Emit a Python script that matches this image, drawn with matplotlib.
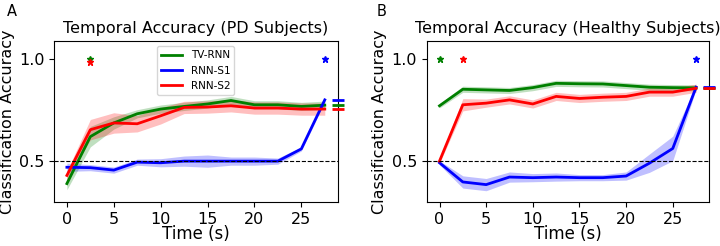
import numpy as np
import matplotlib
matplotlib.use("Agg")
import matplotlib.pyplot as plt

# time points (s)
t = [0, 2.5, 5, 7.5, 10, 12.5, 15, 17.5, 20, 22.5, 25, 27.5]
models = ["TV-RNN", "RNN-S1", "RNN-S2"]
colors = ["green", "blue", "red"]

# PD subjects: mean and half-width of shaded band
pd_tv = [0.39, 0.62, 0.687, 0.732, 0.755, 0.768, 0.78, 0.797, 0.776, 0.776, 0.768, 0.774]
pd_tv_err = [0.03, 0.05, 0.03, 0.02, 0.02, 0.02, 0.02, 0.02, 0.02, 0.02, 0.02, 0.02]
pd_s1 = [0.47, 0.468, 0.456, 0.495, 0.492, 0.5, 0.5, 0.5, 0.5, 0.5, 0.56, 0.80]
pd_s1_err = [0.02, 0.015, 0.015, 0.015, 0.02, 0.025, 0.03, 0.02, 0.02, 0.015, 0.01, 0.01]
pd_s2 = [0.43, 0.654, 0.687, 0.683, 0.722, 0.763, 0.765, 0.771, 0.76, 0.76, 0.755, 0.755]
pd_s2_err = [0.02, 0.05, 0.05, 0.04, 0.04, 0.03, 0.03, 0.03, 0.03, 0.03, 0.03, 0.03]
pd_star_x = [2.5, 27.5, 2.5]
pd_star_y = [1.0, 1.0, 0.984]

# healthy subjects
hc_tv = [0.771, 0.852, 0.849, 0.846, 0.86, 0.881, 0.879, 0.878, 0.87, 0.862, 0.86, 0.859]
hc_tv_err = [0.01, 0.015, 0.015, 0.015, 0.015, 0.015, 0.015, 0.015, 0.015, 0.015, 0.015, 0.015]
hc_s1 = [0.492, 0.398, 0.385, 0.422, 0.419, 0.422, 0.419, 0.419, 0.427, 0.49, 0.562, 0.862]
hc_s1_err = [0.01, 0.03, 0.03, 0.025, 0.02, 0.02, 0.015, 0.015, 0.02, 0.045, 0.06, 0.01]
hc_s2 = [0.5, 0.776, 0.784, 0.8, 0.78, 0.817, 0.807, 0.813, 0.817, 0.838, 0.838, 0.857]
hc_s2_err = [0.01, 0.03, 0.02, 0.02, 0.02, 0.02, 0.02, 0.02, 0.02, 0.02, 0.02, 0.02]
hc_star_x = [0, 27.5, 2.5]
hc_star_y = [1.0, 1.0, 1.0]

panels = [
    ("A", 0.01, "Temporal Accuracy (PD Subjects)", [pd_tv, pd_s1, pd_s2], [pd_tv_err, pd_s1_err, pd_s2_err],
     pd_star_x, pd_star_y, [0.075, 0.179, 0.394, 0.654]),
    ("B", 0.523, "Temporal Accuracy (Healthy Subjects)", [hc_tv, hc_s1, hc_s2], [hc_tv_err, hc_s1_err, hc_s2_err],
     hc_star_x, hc_star_y, [0.5926, 0.179, 0.392, 0.654]),
]

fig = plt.figure(figsize=(7.2, 2.46), dpi=100)
xmax = 28.875

for i, (lab, lab_x, title, means, errs, sx, sy, rect) in enumerate(panels):
    ax = fig.add_axes(rect)
    for m, e, c, name in zip(means, errs, colors, models):
        m = np.array(m)
        e = np.array(e)
        ax.fill_between(t, m - e, m + e, color=c, alpha=0.25, lw=0)
        ax.plot(t, m, color=c, lw=2, label=name)
    for m, c in zip(means, colors):
        ax.plot(xmax, m[-1], marker="_", color=c, ms=9, mew=2, clip_on=False, zorder=5)
    for x, y, c in zip(sx, sy, colors):
        ax.plot(x, y, marker="*", color=c, ms=5, ls="none")
    ax.axhline(0.5, color="black", ls="--", lw=0.8)
    ax.set_xlim(-1.375, xmax)
    ax.set_ylim(0.30, 1.088)
    ax.set_xticks([0, 5, 10, 15, 20, 25])
    ax.set_yticks([0.5, 1.0])
    ax.tick_params(labelsize=11.5)
    ax.set_xlabel("Time (s)", fontsize=12, labelpad=-1)
    ax.set_ylabel("Classification Accuracy", fontsize=11.5, labelpad=3)
    ax.set_title(title, fontsize=11.5)
    if i == 0:
        ax.legend(loc="upper center", fontsize=7.5)
    fig.text(lab_x, 0.935, lab, fontsize=10.5)

fig.savefig("out.png", dpi=100)
